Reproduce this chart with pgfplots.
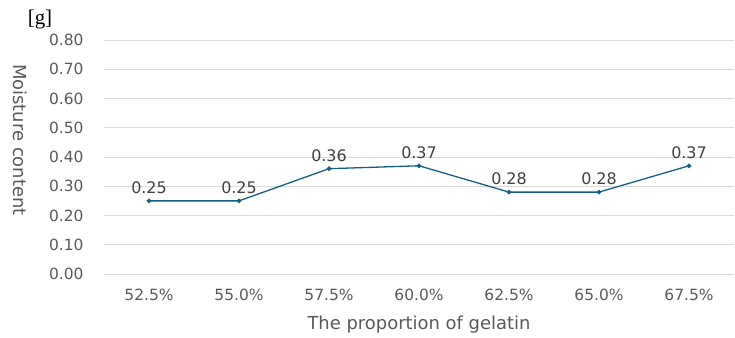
\documentclass[border=0pt]{standalone}
\usepackage{pgfplots}
\pgfplotsset{compat=1.18}
\usepackage{fontspec}
\setmainfont{DejaVu Sans}
\newfontfamily\serifb{Liberation Serif}
\definecolor{linec}{HTML}{156082}
\definecolor{gridc}{HTML}{D9D9D9}
\definecolor{tickc}{HTML}{595959}
\definecolor{labc}{HTML}{404040}
\begin{document}
\begin{tikzpicture}
\path[use as bounding box] (-104bp,-64bp) rectangle (631bp,274bp);
\begin{axis}[
  at={(0,0)}, anchor=south west,
  scale only axis, width=630bp, height=234bp,
  xmin=-0.5, xmax=6.5, ymin=0, ymax=0.8,
  xtick={0,...,6},
  xticklabels={52.5\%,55.0\%,57.5\%,60.0\%,62.5\%,65.0\%,67.5\%},
  ytick={0,0.1,...,0.8},
  /pgf/number format/fixed,
  /pgf/number format/fixed zerofill,
  /pgf/number format/precision=2,
  /pgf/number format/assume math mode=true,
  ymajorgrids, grid style={gridc, line width=0.9bp},
  axis line style={draw=none},
  major tick length=0pt,
  tick label style={font=\fontsize{15.5}{17}\selectfont, text=tickc},
  xticklabel style={yshift=-12bp},
  yticklabel style={xshift=-17bp},
  xlabel={The proportion of gelatin},
  ylabel={Moisture content},
  label style={font=\fontsize{18}{20}\selectfont, text=tickc},
  xlabel style={at={(axis description cs:0.5,0)}, anchor=center, yshift=-51bp},
  ylabel style={at={(axis description cs:-0.133,0.573)}, anchor=center, rotate=180},
  clip=false,
]
\addplot[color=linec, line width=1.3bp, mark=*, mark size=1.6bp,
  nodes near coords, point meta=explicit symbolic,
  every node near coord/.style={font=\fontsize{16}{18}\selectfont, text=labc, anchor=south, yshift=3bp}]
  table[meta=l] {
  x y l
  0 0.25 0.25
  1 0.25 0.25
  2 0.36 0.36
  3 0.37 0.37
  4 0.28 0.28
  5 0.28 0.28
  6 0.37 0.37
  };
\end{axis}
\node[font=\serifb\fontsize{21}{23}\selectfont, text=black] at (-64bp,254bp) {[g]};
\end{tikzpicture}
\end{document}
